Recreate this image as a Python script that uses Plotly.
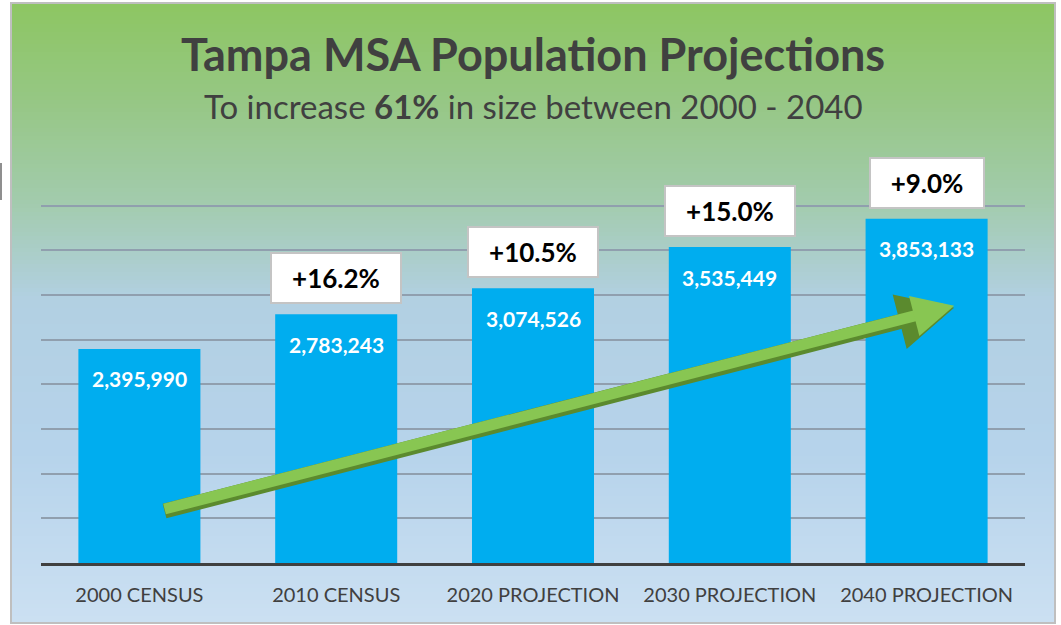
import plotly.graph_objects as go

# ---- data ----
categories = ["2000 CENSUS", "2010 CENSUS", "2020 PROJECTION", "2030 PROJECTION", "2040 PROJECTION"]
population = [2395990, 2783243, 3074526, 3535449, 3853133]
growth_labels = ["", "+16.2%", "+10.5%", "+15.0%", "+9.0%"]
y_ticks = [0, 500000, 1000000, 1500000, 2000000, 2500000, 3000000, 3500000, 4000000]
title_text = "Tampa MSA Population Projections"
subtitle_text = "To increase <b>61%</b> in size between 2000 - 2040"

# ---- layout geometry (pixels) ----
FW, FH = 1061, 625
L, R, T, B = 41, 1025, 152, 563
PW, PH = R - L, B - T
YMAX = 4600000


def px(x):
    return (x - L) / PW


def py(y):
    return (B - y) / PH


def lerp(c1, c2, t):
    return tuple(round(a + (b - a) * t) for a, b in zip(c1, c2))


stops = [(4, (141, 198, 98)), (100, (150, 199, 132)), (200, (162, 203, 172)),
         (300, (178, 208, 226)), (450, (182, 211, 235)), (622, (203, 224, 242))]


def grad_color(y):
    for (y1, c1), (y2, c2) in zip(stops[:-1], stops[1:]):
        if y1 <= y <= y2:
            return lerp(c1, c2, (y - y1) / (y2 - y1))
    return stops[-1][1]


shapes = []
y0 = 4
step = 4
while y0 < 622:
    y1 = min(y0 + step, 622)
    c = grad_color((y0 + y1) / 2)
    shapes.append(dict(type="rect", xref="paper", yref="paper",
                       x0=px(12), x1=px(1054), y0=py(y1 + 0.5), y1=py(y0),
                       fillcolor="rgb(%d,%d,%d)" % c, line=dict(width=0), layer="below"))
    y0 = y1
# frame
shapes.append(dict(type="rect", xref="paper", yref="paper",
                   x0=px(11), x1=px(1055), y0=py(623), y1=py(3),
                   fillcolor="rgba(0,0,0,0)", line=dict(color="#BFBFBF", width=2), layer="above"))
# small artifact on the left edge
shapes.append(dict(type="line", xref="paper", yref="paper",
                   x0=px(1), x1=px(1), y0=py(200), y1=py(163),
                   line=dict(color="#6A6A6A", width=1.5)))

fig = go.Figure()
fig.add_trace(go.Bar(
    x=categories, y=population,
    marker=dict(color="#00ADEF", line=dict(width=0)),
    width=0.62, hoverinfo="skip",
))

annotations = []
# value labels inside bars
for cat, val in zip(categories, population):
    annotations.append(dict(x=cat, y=val, xref="x", yref="y", text="<b>{:,}</b>".format(val),
                            showarrow=False, yanchor="middle", yshift=-30,
                            font=dict(family="Lato", size=21, color="white")))
# growth boxes
for cat, val, g in zip(categories, population, growth_labels):
    if not g:
        continue
    w = 16 * len(g) + 34
    annotations.append(dict(x=cat, y=val, xref="x", yref="y", text="<b>" + g + "</b>",
                            showarrow=False, yanchor="bottom", yshift=10,
                            width=w - 4, height=46, borderpad=1,
                            bgcolor="white", bordercolor="#C4C4C4", borderwidth=2,
                            font=dict(family="Lato", size=26, color="black")))
# arrow (decoration): shadow then body
for col, wdt, dy in [("#5B8A2E", 15, 2), ("#88C652", 11, 0)]:
    annotations.append(dict(x=4.14, y=2.88e6 - dy * 11196, ax=0.12, ay=0.60e6 - dy * 11196,
                            xref="x", yref="y", axref="x", ayref="y", text="",
                            showarrow=True, arrowhead=2, arrowsize=0.75, arrowwidth=wdt,
                            arrowcolor=col, standoff=0))
# titles
annotations.append(dict(x=px(533), y=py(54), xref="paper", yref="paper", text="<b>" + title_text + "</b>",
                        showarrow=False, xanchor="center", yanchor="middle",
                        font=dict(family="Lato", size=45, color="#404040")))
annotations.append(dict(x=px(533), y=py(106), xref="paper", yref="paper", text=subtitle_text,
                        showarrow=False, xanchor="center", yanchor="middle",
                        font=dict(family="Lato", size=33, color="#404040")))

fig.update_layout(
    width=FW, height=FH,
    margin=dict(l=L, r=FW - R, t=T, b=FH - B, pad=0),
    paper_bgcolor="white", plot_bgcolor="rgba(0,0,0,0)",
    showlegend=False, bargap=0.38,
    shapes=shapes, annotations=annotations,
    xaxis=dict(showgrid=False, showline=True, linecolor="#404040", linewidth=3,
               ticks="", tickfont=dict(family="Lato", size=20, color="#404040"),
               ticklabelstandoff=12, fixedrange=True),
    yaxis=dict(range=[0, YMAX], tickvals=y_ticks, showticklabels=False, showgrid=True,
               gridcolor="#909FAE", gridwidth=1.5, zeroline=False, showline=False,
               fixedrange=True),
)
fig.write_html("out.html", config={"displayModeBar": False},
               post_script="document.body.style.margin='0px';document.body.style.overflow='hidden';")
